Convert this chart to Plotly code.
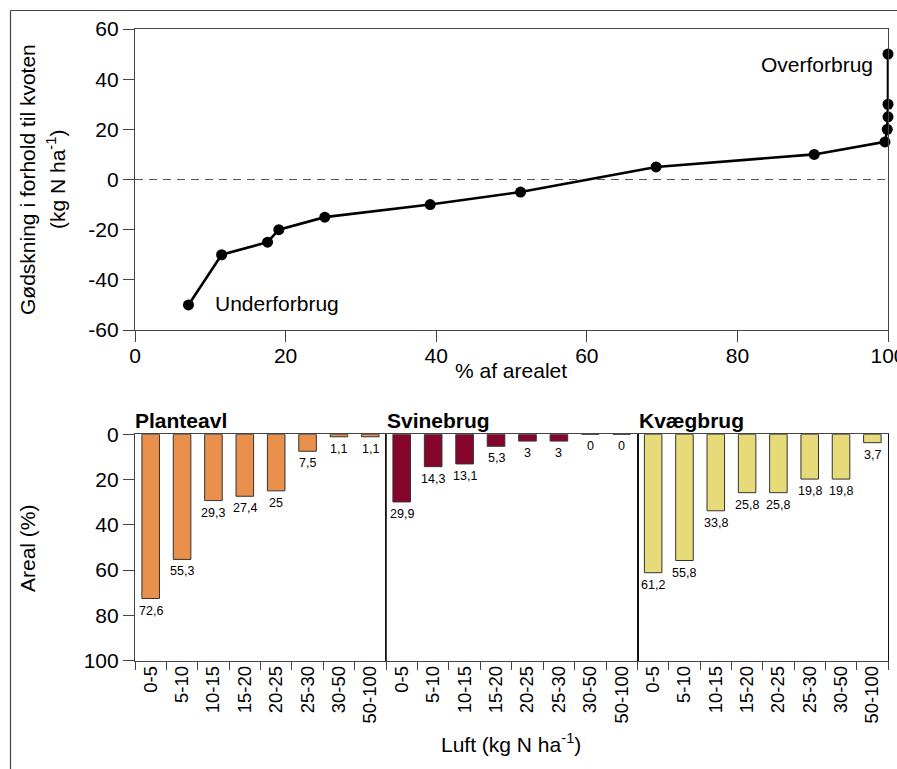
import plotly.graph_objects as go

W, H = 897, 769
FONT = "Liberation Sans, Arial, Helvetica, sans-serif"

# Upper chart: cumulative share of area vs. fertilisation relative to the quota
area_pct = [7.1, 11.5, 17.6, 19.1, 25.2, 39.2, 51.2, 69.2, 90.2, 99.6, 99.9, 100, 100, 100]
fert_diff = [-50, -30, -25, -20, -15, -10, -5, 5, 10, 15, 20, 25, 30, 50]
x_ticks = [0, 20, 40, 60, 80, 100]
y_ticks = [-60, -40, -20, 0, 20, 40, 60]

# Lower chart: area share per atmospheric N deposition class, by farm type
luft_classes = ["0-5", "5-10", "10-15", "15-20", "20-25", "25-30", "30-50", "50-100"]
planteavl = [72.6, 55.3, 29.3, 27.4, 25, 7.5, 1.1, 1.1]
svinebrug = [29.9, 14.3, 13.1, 5.3, 3, 3, 0, 0]
kvaegbrug = [61.2, 55.8, 33.8, 25.8, 25.8, 19.8, 19.8, 3.7]
areal_ticks = [0, 20, 40, 60, 80, 100]

panel_names = ["Planteavl", "Svinebrug", "Kvægbrug"]
panel_values = [planteavl, svinebrug, kvaegbrug]
panel_colors = ["#E8904C", "#86052B", "#E7DA78"]


def px(x):
    return x / W


def py(y):
    return 1 - y / H


def hyphen_labels(vals):
    return [str(v) for v in vals]


AX_COL = "#444"

fig = go.Figure()

# ---- upper line chart ----
fig.add_trace(go.Scatter(
    x=area_pct, y=fert_diff, mode="lines+markers",
    line=dict(color="black", width=2.6),
    marker=dict(color="black", size=11),
    cliponaxis=False, showlegend=False, xaxis="x", yaxis="y",
))

layout = dict(
    template="none",
    width=W, height=H,
    margin=dict(l=0, r=0, t=0, b=0, pad=0, autoexpand=False),
    paper_bgcolor="white", plot_bgcolor="white",
    font=dict(family=FONT, color="black", size=21),
    showlegend=False,
    bargap=0.44,
)

common_axis = dict(
    showline=True, linecolor=AX_COL, linewidth=1.2, mirror=True,
    ticks="outside", tickcolor=AX_COL, tickwidth=1.2,
    showgrid=False, zeroline=False, automargin=False,
)

layout["xaxis"] = dict(
    **common_axis, domain=[px(135), px(888)], range=[0, 100],
    tickvals=x_ticks, ticktext=hyphen_labels(x_ticks), ticklen=11,
    tickfont=dict(size=21), anchor="y", ticklabeloverflow="allow",
    ticklabelstandoff=-4,
)
layout["yaxis"] = dict(
    **common_axis, domain=[py(330), py(29)], range=[-60, 60],
    tickvals=y_ticks, ticktext=hyphen_labels(y_ticks), ticklen=11,
    tickfont=dict(size=21), anchor="x", ticklabeloverflow="allow",
)

# ---- lower bar panels ----
panel_edges = [135, 386, 637.5, 888]
for i, (name, vals, col) in enumerate(zip(panel_names, panel_values, panel_colors)):
    xa = f"x{i + 2}"
    ya = f"y{i + 2}"
    fig.add_trace(go.Bar(
        x=luft_classes, y=vals, marker=dict(color=col, line=dict(color="#333", width=1)),
        xaxis=xa, yaxis=ya, showlegend=False,
    ))
    layout[f"xaxis{i + 2}"] = dict(
        **common_axis, domain=[px(panel_edges[i]), px(panel_edges[i + 1])],
        type="category", range=[-0.5, 7.5], tickson="boundaries", ticklen=8,
        tickangle=-90, tickfont=dict(size=18.5), anchor=ya, ticklabeloverflow="allow",
        ticklabelstandoff=-3,
    )
    yax = dict(
        showline=True, linecolor=AX_COL if i == 0 else "#111",
        linewidth=1.2,
        mirror=True, showgrid=False, zeroline=False, automargin=False,
        domain=[py(660.5), py(434.3)], range=[100, 0], anchor=xa,
    )
    if i == 0:
        yax.update(ticks="outside", tickcolor=AX_COL, tickwidth=1.2, ticklen=11,
                   tickvals=areal_ticks, ticktext=hyphen_labels(areal_ticks),
                   tickfont=dict(size=21), ticklabeloverflow="allow")
    else:
        yax.update(showticklabels=False, ticks="")
    layout[f"yaxis{i + 2}"] = yax

fig.update_layout(**layout)

annotations = []
# value labels under each bar
for i, vals in enumerate(panel_values):
    for cat, v in zip(luft_classes, vals):
        annotations.append(dict(
            x=cat, y=v, xref=f"x{i + 2}", yref=f"y{i + 2}",
            text=f"{v:g}".replace(".", ","), showarrow=False,
            yanchor="top", xanchor="center", yshift=-3,
            font=dict(size=12.5, color="black"),
        ))
# panel titles
for name, left in zip(panel_names, [135, 387, 638.5]):
    annotations.append(dict(
        x=px(left), y=py(420), xref="paper", yref="paper",
        text=f"<b>{name}</b>", showarrow=False, xanchor="left", yanchor="middle",
        font=dict(size=21), xshift=-2,
    ))

annotations += [
    dict(x=10.3, y=-49.5, xref="x", yref="y", text="Underforbrug", showarrow=False,
         xanchor="left", yanchor="middle", font=dict(size=21)),
    dict(x=98.3, y=46, xref="x", yref="y", text="Overforbrug", showarrow=False,
         xanchor="right", yanchor="middle", font=dict(size=21)),
    dict(x=px(511.5), y=py(370), xref="paper", yref="paper", text="% af arealet",
         showarrow=False, xanchor="center", yanchor="middle", font=dict(size=21)),
    dict(x=px(27), y=py(180), xref="paper", yref="paper",
         text="Gødskning i forhold til kvoten", textangle=-90, showarrow=False,
         xanchor="center", yanchor="middle", font=dict(size=21)),
    dict(x=px(56), y=py(180), xref="paper", yref="paper",
         text="(kg N ha<sup>-1</sup>)", textangle=-90, showarrow=False,
         xanchor="center", yanchor="middle", font=dict(size=21)),
    dict(x=px(27), y=py(548), xref="paper", yref="paper",
         text="Areal (%)", textangle=-90, showarrow=False,
         xanchor="center", yanchor="middle", font=dict(size=21)),
    dict(x=px(511.5), y=py(743), xref="paper", yref="paper",
         text="Luft (kg N ha<sup>-1</sup>)", showarrow=False,
         xanchor="center", yanchor="middle", font=dict(size=21)),
]
fig.update_layout(annotations=annotations)

# zero reference line and outer frame
fig.add_shape(type="line", xref="x", yref="y", x0=0, x1=100, y0=0, y1=0,
              line=dict(color="#555", width=1.2, dash="8px,6px"), layer="below")
fig.add_shape(type="line", xref="paper", yref="paper",
              x0=px(10.5), x1=px(10.5), y0=py(10.5), y1=py(769),
              line=dict(color="#444", width=1.2))
fig.add_shape(type="line", xref="paper", yref="paper",
              x0=px(10.5), x1=px(897), y0=py(10.5), y1=py(10.5),
              line=dict(color="#444", width=1.2))

fig.write_html("out.html")
